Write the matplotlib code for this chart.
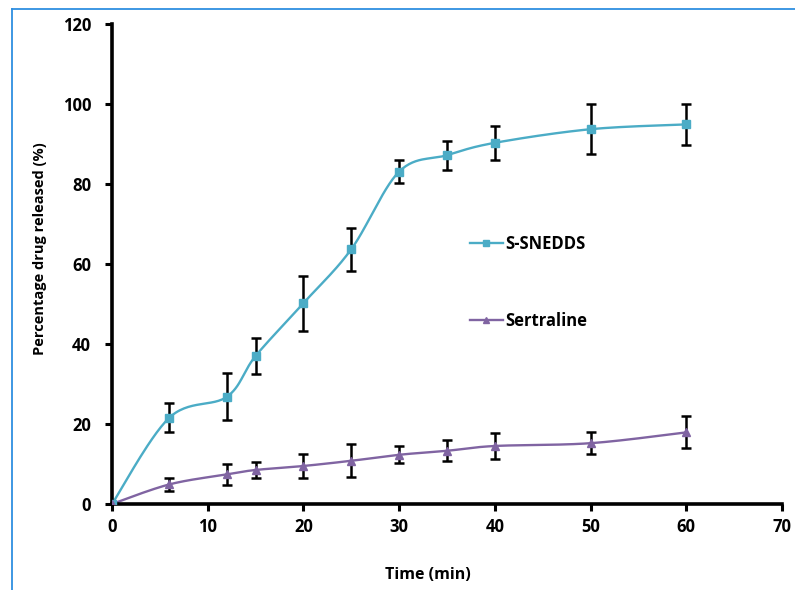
import numpy as np
import matplotlib
matplotlib.use("Agg")
import matplotlib.pyplot as plt
from matplotlib.lines import Line2D

time = [0, 6, 12, 15, 20, 25, 30, 35, 40, 50, 60]
snedds = [0, 21.6, 26.8, 37.0, 50.2, 63.7, 83.1, 87.2, 90.3, 93.7, 94.9]
snedds_err = [0, 3.7, 5.9, 4.6, 6.9, 5.4, 2.9, 3.6, 4.3, 6.2, 5.2]
sert = [0, 4.9, 7.4, 8.5, 9.5, 10.8, 12.3, 13.3, 14.5, 15.2, 17.9]
sert_err = [0, 1.7, 2.6, 2.0, 3.0, 4.1, 2.1, 2.6, 3.3, 2.7, 4.0]

xticks = [0, 10, 20, 30, 40, 50, 60, 70]
yticks = [0, 20, 40, 60, 80, 100, 120]

C_SN = "#4BACC6"
C_SE = "#8064A2"

plt.rcParams['font.family'] = ['Open Sans', 'DejaVu Sans']
plt.rcParams['font.weight'] = 'bold'


def smooth(x, y, n=30):
    x = np.asarray(x, float)
    y = np.asarray(y, float)
    xs, ys = [], []
    m = len(x)
    for i in range(m - 1):
        p0 = np.array([x[max(i - 1, 0)], y[max(i - 1, 0)]])
        p1 = np.array([x[i], y[i]])
        p2 = np.array([x[i + 1], y[i + 1]])
        p3 = np.array([x[min(i + 2, m - 1)], y[min(i + 2, m - 1)]])
        c1 = p1 + (p2 - p0) / 6.0
        c2 = p2 - (p3 - p1) / 6.0
        t = np.linspace(0, 1, n)[:, None]
        pts = ((1 - t) ** 3) * p1 + 3 * ((1 - t) ** 2) * t * c1 + 3 * (1 - t) * t ** 2 * c2 + t ** 3 * p2
        xs.extend(pts[:, 0])
        ys.extend(pts[:, 1])
    return np.array(xs), np.array(ys)


fig = plt.figure(figsize=(7.95, 5.9), dpi=100)
ax = fig.add_axes([0.1409, 0.1458, 0.8427, 0.8135])

for xs, ys, err, col, mk, ms, lab in [
    (time, snedds, snedds_err, C_SN, 's', 5.5, 'S-SNEDDS'),
    (time, sert, sert_err, C_SE, '^', 5.5, 'Sertraline'),
]:
    sx, sy = smooth(xs, ys)
    ax.plot(sx, sy, color=col, lw=1.7, zorder=2)
    ax.errorbar(xs, ys, yerr=err, fmt='none', ecolor='black', elinewidth=1.8,
                capsize=3.5, capthick=1.8, zorder=3)
    ax.plot(xs, ys, linestyle='none', marker=mk, color=col, ms=ms, zorder=4)

handles = [
    Line2D([], [], color=C_SN, lw=1.7, marker='s', ms=5),
    Line2D([], [], color=C_SE, lw=1.7, marker='^', ms=5),
]
leg = ax.legend(handles, ['S-SNEDDS', 'Sertraline'], loc='upper left',
                bbox_to_anchor=(0.534, 0.56), frameon=False,
                prop={'weight': 'bold', 'size': 12}, handlelength=2.0,
                handletextpad=0.15, labelspacing=3.5, borderpad=0, borderaxespad=0,
                markerfirst=True)

ax.set_xlim(0, 70)
ax.set_ylim(0, 120)
ax.set_xticks(xticks)
ax.set_yticks(yticks)
ax.tick_params(axis='both', direction='out', length=5, width=2.2, labelsize=12)
ax.tick_params(axis='y', pad=10)
ax.tick_params(axis='x', pad=5)
for lbl in ax.get_xticklabels() + ax.get_yticklabels():
    lbl.set_fontweight('bold')
for s in ['top', 'right']:
    ax.spines[s].set_visible(False)
for s in ['left', 'bottom']:
    ax.spines[s].set_linewidth(2.6)
    ax.spines[s].set_capstyle('projecting')

ax.set_xlabel('Time (min)', fontsize=11.5, fontweight='bold')
ax.set_ylabel('Percentage drug released (%)', fontsize=10.5, fontweight='bold')
ax.xaxis.set_label_coords((428 - 112) / 670, (504 - 575) / 480)
ax.yaxis.set_label_coords((40 - 112) / 670, (504 - 249) / 480)
ax.xaxis.label.set_va('center')
ax.yaxis.label.set_va('center')

# blue border of the figure frame
fig.add_artist(Line2D([12 / 795, 12 / 795], [1 - 9 / 590, 0], transform=fig.transFigure,
                      color='#2E8FE0', lw=1.3))
fig.add_artist(Line2D([12 / 795, 1], [1 - 9 / 590, 1 - 9 / 590], transform=fig.transFigure,
                      color='#2E8FE0', lw=1.3))

fig.savefig('out.png', dpi=100)
